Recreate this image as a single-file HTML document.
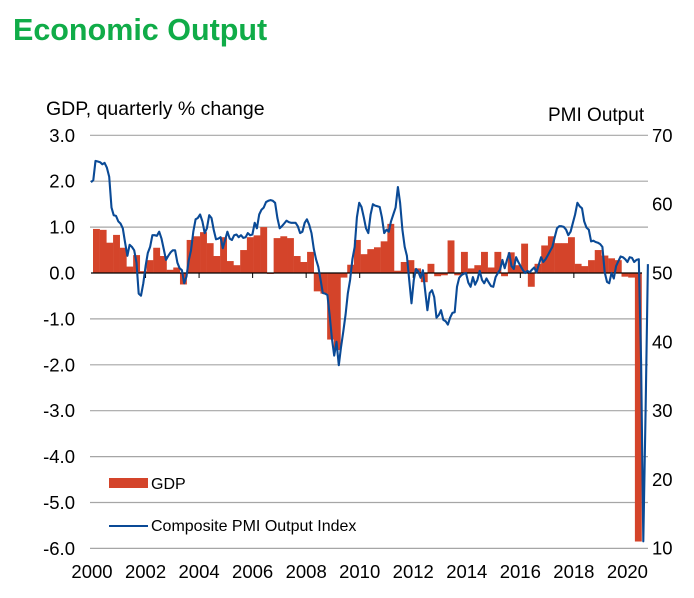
<!DOCTYPE html>
<html><head><meta charset="utf-8"><style>
body{margin:0;background:#fff;}
svg text{font-family:"Liberation Sans",sans-serif;}
</style></head><body>
<svg id="chart" width="694" height="593" xmlns="http://www.w3.org/2000/svg">
<text x="13" y="40" font-size="30.5" font-weight="bold" fill="#10ac48">Economic Output</text>
<text x="46" y="115" font-size="19.5" fill="#000">GDP, quarterly % change</text>
<text x="548" y="121" font-size="19" fill="#000">PMI Output</text>
<g id="grid"></g>
<g id="bars"></g>
<g id="axes"></g>
<g id="line"></g>
<g>
<rect x="109" y="478" width="39" height="10" fill="#d4442a"/>
<text x="151" y="489" font-size="16" fill="#000">GDP</text>
<line x1="109" y1="526" x2="148" y2="526" stroke="#0a4a96" stroke-width="2"/>
<text x="151" y="531" font-size="16" fill="#000">Composite PMI Output Index</text>
</g>
</svg>
<script>
const gdpValues = [0.96,0.94,0.66,0.83, 0.55,0.14,0.39,0.04, 0.28,0.55,0.37,0.07, 0.12,-0.25,0.72,0.80,
 0.89,0.65,0.37,0.78, 0.26,0.17,0.5,0.78, 0.82,1.0,-0.02,0.76, 0.80,0.76,0.37,0.24,
 0.46,-0.4,-0.45,-1.45, -1.68,-0.1,0.18,0.72, 0.41,0.52,0.56,0.69, 1.07,0.05,0.24,0.28,
 0.10,-0.2,0.2,-0.07, -0.05,0.71,-0.05,0.46, 0.1,0.17,0.46,0.12, 0.46,-0.07,0.45,0.17,
 0.64,-0.3,0.2,0.6, 0.8,0.65,0.65,0.78, 0.2,0.15,0.28,0.5, 0.38,0.32,0.28,-0.08, -0.1,-5.85];
const pmiValues = [
63.2,63.5,66.3,66.2,66.1,65.8,66,65.3,64,59.5,58.4,58.3,
57.5,57.2,56.5,54.4,52.5,54.1,53.8,53.3,51.5,47,46.7,48.5,
51,52.9,53.8,55.5,55.5,55.4,56,55,53.5,51.9,52.5,53,
53.3,53.3,51.5,50.7,50.4,48.5,49.5,51.8,53.3,56,57.8,58,
58.5,57.5,55.8,56.5,58.4,58,56.3,54.9,55,55.2,53.6,54.8,
56,55,54.8,55.5,55.6,55.2,55.5,55.1,55.2,55.8,55.5,55.6,
57.3,56.5,58.5,59.2,59.5,60.3,60.5,60.6,60.5,60.2,58,56.5,
56.8,57.2,57.6,57.4,57.3,57.3,57.3,56.8,55.8,56,57.3,57.8,
57,55.8,53.5,52,50.9,49,47.1,47,46.8,43.8,40.5,38,
40,36.6,39.2,41.5,44,47,49,52,53.8,58.1,60.2,59.6,
58.1,56.5,55.8,58.5,60,59.8,59.7,59.6,58.1,55.8,56.3,56,
57.5,58.5,59.5,62.5,60.2,56.3,53.8,52.5,49,45.6,49,50.6,
50.2,49.3,50.4,47.5,44.6,47.1,47.5,46.5,43.5,43.9,44.6,43.2,
43,42.5,43.5,44.2,44.3,48,49.3,49.7,49.9,50,48.6,48,
49.4,48.3,49,50.3,49,48.5,49.2,48.6,48.1,48,49.4,50,
50.5,51.9,50.7,51.9,52.9,51,50.6,52.3,51.6,51,50.4,50,
50.3,50.1,50.5,50.8,50.1,51.2,52.3,51.6,52,52.6,53.2,53.8,
55.2,56.5,56.8,56.8,56.7,56.3,55.5,56,57.3,58.5,60.2,59.7,
59.4,57.5,56.6,56.3,54.6,54.7,54.5,54.4,54.2,53.8,50.1,48.7,
48.5,50,49.2,51,51.7,52.4,52.3,52,51.6,52.3,52.2,51.6,
51.9,52,37,11.0,30,51.3];
const leftTicks = [3,2,1,0,-1,-2,-3,-4,-5,-6];
const leftTickLabels = ["3.0","2.0","1.0","0.0","-1.0","-2.0","-3.0","-4.0","-5.0","-6.0"];
const rightTicks = [70,60,50,40,30,20,10];
const yearTicks = [2000,2002,2004,2006,2008,2010,2012,2014,2016,2018,2020];

const NS = "http://www.w3.org/2000/svg";
const yL = v => 273 - v * 45.9;
const yR = v => 273 - (v - 50) * 6.88;
const xYear = y => 92 + (y - 2000) * 26.77;
const xQuarter = q => 93 + q * 6.69;
const xMonth = i => 91 + i * 2.273;
function mk(tag, attrs, parent, text){
  const e = document.createElementNS(NS, tag);
  for (const k in attrs) e.setAttribute(k, attrs[k]);
  if (text !== undefined) e.textContent = text;
  parent.appendChild(e); return e;
}
const grid = document.getElementById('grid');
const axes = document.getElementById('axes');
leftTicks.forEach((v, i) => {
  if (v !== 0) {
    const g = mk('line', {x1:90, x2:648, y1:yL(v), y2:yL(v), stroke:'#a6a6a6', 'stroke-width':1.2}, grid);
    
    
  }
  const t = mk('text', {x:75, y:yL(v)+6.5, 'text-anchor':'end', 'font-size':18.5, fill:'#000'}, axes, leftTickLabels[i]);
  
  
});
rightTicks.forEach(v => {
  const t = mk('text', {x:652, y:yR(v)+6.5, 'font-size':18.5, fill:'#000'}, axes, String(v));
  
  
});
yearTicks.forEach(yr => {
  const t = mk('text', {x:xYear(yr), y:578, 'text-anchor':'middle', 'font-size':18.5, fill:'#000'}, axes, String(yr));
  
  
});
const bars = document.getElementById('bars');
gdpValues.forEach((v, q) => {
  const y0 = yL(0), y1 = yL(v);
  const b = mk('rect', {x:xQuarter(q), y:Math.min(y0,y1), width:6.9, height:Math.max(0.5, Math.abs(y1-y0)), fill:'#d4442a'}, bars);
  
  
});
const zl = mk('line', {x1:91, x2:642, y1:yL(0), y2:yL(0), stroke:'#000', 'stroke-width':1.3}, axes);


yearTicks.forEach(yr => {
  if (yr === 2000 || yr === 2020) return;
  const tk = mk('line', {x1:xYear(yr), x2:xYear(yr), y1:yL(0), y2:yL(0)+5, stroke:'#000', 'stroke-width':1}, axes);
  
  
});
const pts = pmiValues.map((v, i) => xMonth(i).toFixed(1) + ',' + yR(v).toFixed(1)).join(' ');
const pl = mk('polyline', {points:pts, fill:'none', stroke:'#0a4a96', 'stroke-width':2.1, 'stroke-linejoin':'round'}, document.getElementById('line'));


</script>
</body></html>
